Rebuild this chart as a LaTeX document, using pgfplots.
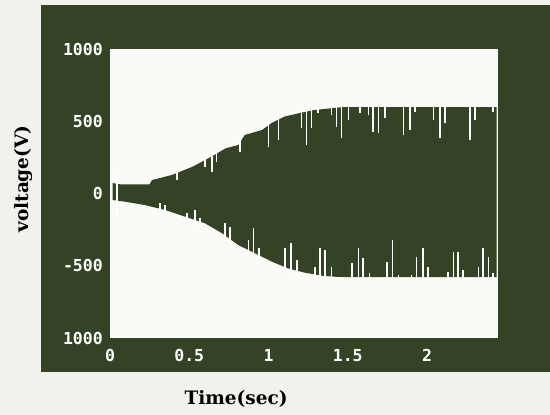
\documentclass[border=0pt]{standalone}
\usepackage{fontspec}
\usepackage{pgfplots}
\pgfplotsset{compat=1.18}
\newfontfamily\tickfont{DejaVu Sans Mono}
\newfontfamily\serifb{DejaVu Serif}
\definecolor{darkc}{RGB}{52,66,38}
\definecolor{pagebg}{RGB}{241,241,237}
\definecolor{plotbg}{RGB}{250,250,246}
\newcommand\labfont{\serifb\bfseries\fontsize{18.5bp}{20bp}\selectfont}
\begin{document}
\begin{tikzpicture}
\useasboundingbox (0,0) rectangle (550bp,415bp);
\fill[pagebg] (0,0) rectangle (550bp,415bp);
\fill[darkc] (41bp,43bp) rectangle (550bp,410bp);
\begin{axis}[
  at={(110bp,77bp)}, anchor=south west,
  scale only axis, width=388bp, height=289bp,
  xmin=0, xmax=2.448, ymin=-1000, ymax=1000,
  axis line style={draw=none},
  major tick length=0pt,
  xtick={0,0.5,1,1.5,2}, xticklabels={0,0.5,1,1.5,2},
  ytick={-1000,-500,0,500,1000}, yticklabels={1000,-500,0,500,1000},
  tick label style={font=\tickfont\bfseries\fontsize{16.5bp}{18bp}\selectfont, text=white},
  yticklabel style={anchor=east, inner sep=0pt, xshift=-7bp},
  xticklabel style={anchor=north, inner sep=0pt, yshift=-11bp},
  axis background/.style={fill=plotbg},
  xlabel={Time(sec)}, ylabel={voltage(V)},
  xlabel style={at={(axis description cs:0.325,-0.211)}, anchor=center, font=\labfont},
  ylabel style={at={(axis description cs:-0.222,0.550)}, anchor=center, font=\labfont},
  unbounded coords=jump,
]
% envelope of the signal: upper edge left to right, lower edge right to left
\addplot[fill=darkc, draw=none] coordinates {
 (0.017,72) (0.06,64) (0.25,64) (0.265,93) (0.39,128) (0.52,185) (0.64,255)
 (0.73,313) (0.81,336) (0.85,405) (0.96,440) (1.02,488) (1.10,532) (1.19,555)
 (1.29,578) (1.40,590) (1.46,597) (2.44,597)
 (2.44,-578) (1.47,-578) (1.42,-576) (1.338,-569) (1.230,-548) (1.123,-518)
 (1.022,-472) (0.915,-414) (0.808,-356) (0.707,-275) (0.599,-206) (0.473,-160)
 (0.347,-114) (0.22,-80) (0.095,-57) (0.017,-45)
} -- cycle;
% white gaps (spikes) from upper edge
\addplot[white, line width=1.6bp] coordinates {
 (0.044,150) (0.044,-150) (0.044,nan)
 (0.421,170) (0.421,93) (0.421,nan)
 (0.599,260) (0.599,185) (0.599,nan)
 (0.642,285) (0.642,146) (0.642,nan)
 (0.673,305) (0.673,220) (0.673,nan)
 (0.820,370) (0.820,289) (0.820,nan)
 (0.999,500) (0.999,324) (0.999,nan)
 (1.062,540) (1.062,370) (1.062,nan)
 (1.209,590) (1.209,451) (1.209,nan)
 (1.241,600) (1.241,336) (1.241,nan)
 (1.272,605) (1.272,451) (1.272,nan)
 (1.314,620) (1.314,555) (1.314,nan)
 (1.398,620) (1.398,543) (1.398,nan)
 (1.430,620) (1.430,462) (1.430,nan)
 (1.461,620) (1.461,382) (1.461,nan)
 (1.504,620) (1.504,509) (1.504,nan)
 (1.577,620) (1.577,555) (1.577,nan)
 (1.630,620) (1.630,543) (1.630,nan)
 (1.661,620) (1.661,428) (1.661,nan)
 (1.693,620) (1.693,417) (1.693,nan)
 (1.735,620) (1.735,520) (1.735,nan)
 (1.851,620) (1.851,405) (1.851,nan)
 (1.893,620) (1.893,439) (1.893,nan)
 (1.924,620) (1.924,566) (1.924,nan)
 (2.040,620) (2.040,509) (2.040,nan)
 (2.082,620) (2.082,382) (2.082,nan)
 (2.114,620) (2.114,486) (2.114,nan)
 (2.271,620) (2.271,370) (2.271,nan)
 (2.303,620) (2.303,509) (2.303,nan)
 (2.418,620) (2.418,566)
};
% white gaps (spikes) from lower edge
\addplot[white, line width=1.6bp] coordinates {
 (0.315,-130) (0.315,-68) (0.315,nan)
 (0.347,-145) (0.347,-80) (0.347,nan)
 (0.484,-195) (0.484,-137) (0.484,nan)
 (0.536,-215) (0.536,-114) (0.536,nan)
 (0.568,-225) (0.568,-172) (0.568,nan)
 (0.726,-320) (0.726,-206) (0.726,nan)
 (0.757,-345) (0.757,-230) (0.757,nan)
 (0.873,-420) (0.873,-322) (0.873,nan)
 (0.905,-440) (0.905,-241) (0.905,nan)
 (0.940,-460) (0.940,-379) (0.940,nan)
 (1.104,-540) (1.104,-379) (1.104,nan)
 (1.142,-555) (1.142,-345) (1.142,nan)
 (1.178,-565) (1.178,-460) (1.178,nan)
 (1.293,-600) (1.293,-506) (1.293,nan)
 (1.325,-600) (1.325,-379) (1.325,nan)
 (1.356,-600) (1.356,-391) (1.356,nan)
 (1.398,-600) (1.398,-506) (1.398,nan)
 (1.525,-600) (1.525,-483) (1.525,nan)
 (1.567,-600) (1.567,-379) (1.567,nan)
 (1.598,-600) (1.598,-448) (1.598,nan)
 (1.636,-600) (1.636,-552) (1.636,nan)
 (1.746,-600) (1.746,-472) (1.746,nan)
 (1.783,-600) (1.783,-322) (1.783,nan)
 (1.819,-600) (1.819,-564) (1.819,nan)
 (1.903,-600) (1.903,-564) (1.903,nan)
 (1.935,-600) (1.935,-441) (1.935,nan)
 (1.973,-600) (1.973,-379) (1.973,nan)
 (2.008,-600) (2.008,-506) (2.008,nan)
 (2.134,-600) (2.134,-541) (2.134,nan)
 (2.166,-600) (2.166,-403) (2.166,nan)
 (2.197,-600) (2.197,-403) (2.197,nan)
 (2.229,-600) (2.229,-529) (2.229,nan)
 (2.324,-600) (2.324,-506) (2.324,nan)
 (2.355,-600) (2.355,-379) (2.355,nan)
 (2.387,-600) (2.387,-437) (2.387,nan)
 (2.418,-600) (2.418,-552)
};
\end{axis}
\end{tikzpicture}
\end{document}
